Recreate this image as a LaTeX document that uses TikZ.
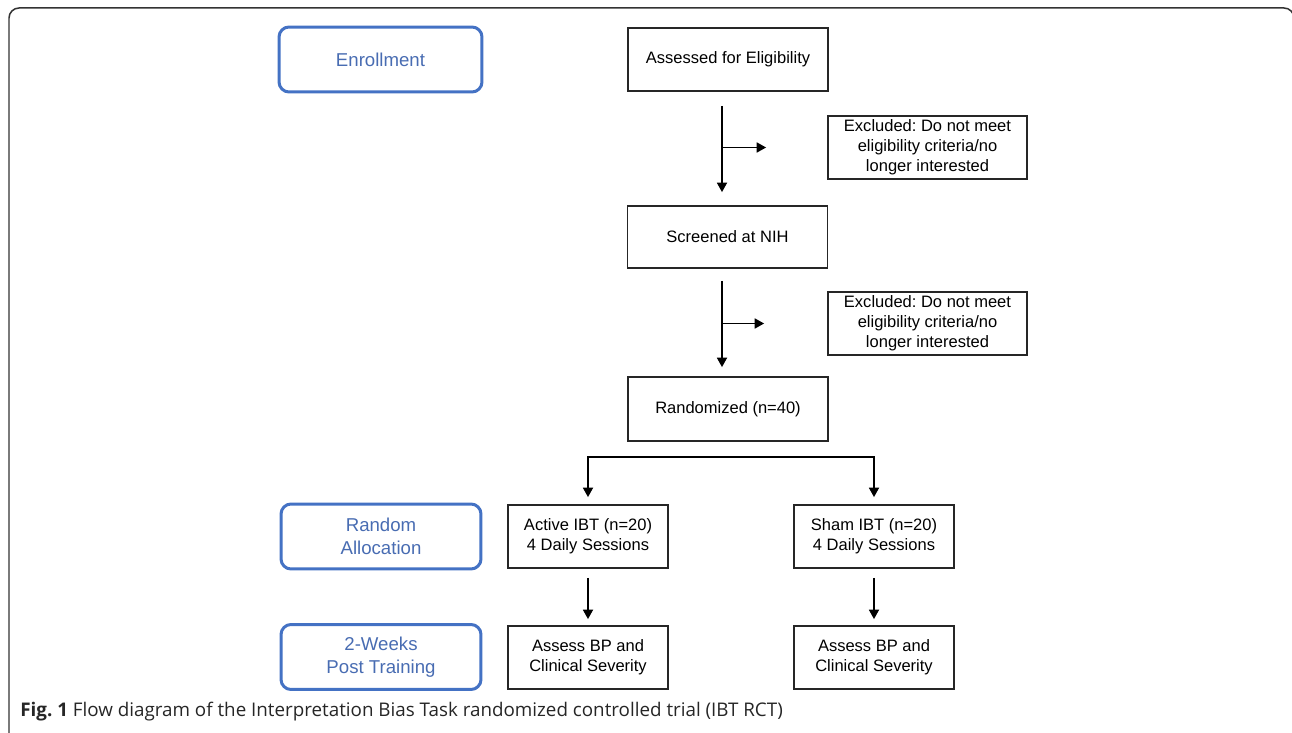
\documentclass[tikz,border=0pt]{standalone}
\usepackage{fontspec}
\setmainfont{Liberation Sans}
\newfontfamily\captionfont{Open Sans}
\usetikzlibrary{arrows.meta}
\definecolor{stageblue}{RGB}{68,114,196}
\definecolor{stagetext}{RGB}{72,108,178}
\frenchspacing

\begin{document}
\begin{tikzpicture}[x=0.02cm, y=-0.02cm,
    flowbox/.style={draw=black!85, line width=0.035cm, minimum width=4cm, minimum height=1.26cm, inner sep=0pt, align=center, font=\fontsize{9.4}{11.3}\selectfont},
    stagebox/.style={draw=stageblue, line width=0.06cm, rounded corners=0.2cm, minimum width=4cm, minimum height=1.3cm, inner sep=0pt, align=center, text=stagetext, font=\fontsize{10.6}{13}\selectfont},
    arr/.style={-{Triangle[length=0.19cm, width=0.2cm]}, line width=0.035cm},
    twoarr/.style={{Triangle[length=0.19cm, width=0.2cm]}-{Triangle[length=0.19cm, width=0.2cm]}, line width=0.035cm}]

\useasboundingbox (0,0) rectangle (1292,733);
\clip (0,0) rectangle (1292,733);
\draw[line width=0.03cm, rounded corners=0.2cm, black!80] (9,780) -- (9,8) -- (1294,8) -- (1294,780);

\node[stagebox, minimum width=4.06cm] (enrol) at (380.5,59.5) {Enrollment};
\node[stagebox] (alloc) at (381,536.5) {Random\\Allocation};
\node[stagebox] (post) at (381,657) {2-Weeks\\Post Training};

\node[flowbox] (assess) at (728,59.5) {Assessed for Eligibility};
\node[flowbox, minimum width=3.98cm] (excl1) at (927.5,147.5) {Excluded: Do not meet\\eligibility criteria/no\\longer interested};
\node[flowbox, minimum height=1.24cm] (screen) at (727.5,237) {Screened at NIH};
\node[flowbox, minimum width=3.98cm] (excl2) at (927.5,323.5) {Excluded: Do not meet\\eligibility criteria/no\\longer interested};
\node[flowbox, minimum height=1.28cm] (rand) at (728,409) {Randomized (n=40)};
\node[flowbox, minimum width=3.2cm] (active) at (588,536.5) {Active IBT (n=20)\\4 Daily Sessions};
\node[flowbox, minimum width=3.2cm] (sham) at (874,536.5) {Sham IBT (n=20)\\4 Daily Sessions};
\node[flowbox, minimum width=3.2cm] (bpactive) at (588,657.5) {Assess BP and\\Clinical Severity};
\node[flowbox, minimum width=3.2cm] (bpsham) at (874,657.5) {Assess BP and\\Clinical Severity};

\node[anchor=base west, inner sep=0pt, text=black!85, font=\captionfont\fontsize{10.7}{12}\selectfont] (caption) at (20,716) {\textbf{Fig. 1} Flow diagram of the Interpretation Bias Task randomized controlled trial (IBT RCT)};

\coordinate (trunk) at (722,0);
\coordinate (split) at ([yshift=-0.3cm]rand.south);
\draw[arr, shorten <=0.28cm, shorten >=0.26cm] (assess.south -| trunk) -- (screen.north -| trunk);
\draw[arr, shorten >=1.22cm] (excl1.west -| trunk) -- (excl1.west);
\draw[arr, shorten <=0.24cm, shorten >=0.18cm] (screen.south -| trunk) -- (rand.north -| trunk);
\draw[arr, shorten >=1.26cm] (excl2.west -| trunk) -- (excl2.west);
\draw[twoarr, shorten <=0.14cm, shorten >=0.14cm] (active.north) |- (split) -| (sham.north);
\draw[arr, shorten <=0.18cm, shorten >=0.12cm] (active) -- (bpactive);
\draw[arr, shorten <=0.18cm, shorten >=0.12cm] (sham) -- (bpsham);

\end{tikzpicture}
\end{document}
